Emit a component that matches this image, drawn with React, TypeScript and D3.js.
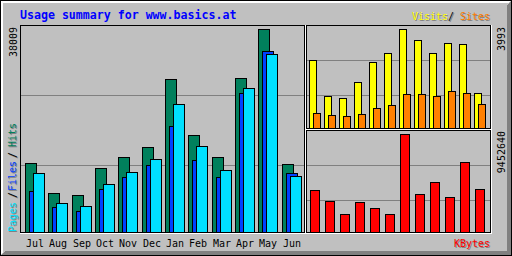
import React from 'react';
import * as d3 from 'd3';

const months = ['Jul', 'Aug', 'Sep', 'Oct', 'Nov', 'Dec', 'Jan', 'Feb', 'Mar', 'Apr', 'May', 'Jun'];
const hits = [12864, 7302, 6872, 11927, 14010, 15915, 28591, 18162, 13950, 28779, 38009, 12732];
const files = [7677, 4625, 3932, 7995, 10298, 12545, 19847, 13425, 10298, 26026, 33834, 11047];
const pages = [11047, 5430, 4812, 8987, 11234, 13612, 23910, 16102, 11553, 26906, 33328, 10429];
const visits = [2739, 1282, 1202, 1849, 2658, 3022, 3993, 3548, 3022, 3427, 3386, 1404];
const sites = [595, 514, 473, 554, 797, 918, 1363, 1363, 1282, 1485, 1404, 959];
const kbytes = [4073000, 3016000, 1768000, 2920000, 2344000, 1768000, 9452640, 3689000, 4842000, 3401000, 6763000, 4169000];

const title = 'Usage summary for www.basics.at';

const C = {
  bg: '#c0c0c0',
  dark: '#808080',
  hits: '#00805c',
  files: '#0040ff',
  pages: '#00e0ff',
  visits: '#ffff00',
  sites: '#ff8000',
  kbytes: '#ff0000',
  title: '#0000ff',
};
const FONT = '"DejaVu Sans Mono", "Liberation Mono", monospace';

// one bar: filled box with a 1px black outline, pixel columns x1..x1+w-1
const Bar = ({ x1, w, top, base, fill }: { x1: number; w: number; top: number; base: number; fill: string }) => {
  const t = Math.round(top);
  return <rect x={x1 + 0.5} y={t + 0.5} width={w - 1} height={base - t} fill={fill} stroke="#000" />;
};

// text with the grey drop shadow
const Shadow = ({ x, y, fill, children, rotate }: any) => {
  const tf = (dx: number, dy: number) =>
    rotate ? `translate(${x + dx},${y + dy}) rotate(-90)` : `translate(${x + dx},${y + dy})`;
  return (
    <g>
      <text transform={tf(1, 1)} fill={C.dark}>{children}</text>
      <text transform={tf(0, 0)} fill={fill}>{children}</text>
    </g>
  );
};

// panel frame: black box, white shadow on right/bottom, grid lines
const Frame = ({ x1, y1, x2, y2, grid }: { x1: number; y1: number; x2: number; y2: number; grid: number[] }) => (
  <g>
    {grid.map((g) => (
      <line key={g} x1={x1 + 1} x2={x2} y1={g + 0.5} y2={g + 0.5} stroke={C.dark} />
    ))}
    <line x1={x2 + 1.5} x2={x2 + 1.5} y1={y1} y2={y2 + 2} stroke="#fff" />
    <line x1={x1} x2={x2 + 2} y1={y2 + 1.5} y2={y2 + 1.5} stroke="#fff" />
  </g>
);
const Outline = ({ x1, y1, x2, y2 }: any) => (
  <rect x={x1 + 0.5} y={y1 + 0.5} width={x2 - x1} height={y2 - y1} fill="none" stroke="#000" />
);

export default function App() {
  // main panel: hits / files / pages
  const xMain = d3.scaleBand<string>().domain(months).range([25.3, 25.3 + 12 * 23.36]);
  const yMain = d3.scaleLinear().domain([0, d3.max(hits)!]).range([232, 29]);
  // top right: visits / sites
  const xVis = d3.scaleBand<string>().domain(months).range([309, 309 + 12 * 15]);
  const yVis = d3.scaleLinear().domain([0, d3.max(visits)!]).range([128, 29]);
  // bottom right: kbytes
  const xK = d3.scaleBand<string>().domain(months).range([310, 310 + 12 * 15]);
  const yK = d3.scaleLinear().domain([0, d3.max(kbytes)!]).range([232, 134]);

  const mx = (m: string) => Math.floor(xMain(m)!);

  return (
    <svg
      width={512}
      height={256}
      style={{ position: 'fixed', left: 0, top: 0 }}
      shapeRendering="crispEdges"
      fontFamily={FONT}
      fontSize={10}
    >
      <rect x={0} y={0} width={512} height={256} fill={C.bg} />
      {/* outer bevel */}
      {[1, 2].map((i) => (
        <g key={'w' + i}>
          <line x1={i} x2={511 - i} y1={i + 0.5} y2={i + 0.5} stroke="#fff" />
          <line x1={i + 0.5} x2={i + 0.5} y1={i} y2={255 - i} stroke="#fff" />
        </g>
      ))}
      {[1, 2, 3, 4].map((i) => (
        <g key={'d' + i}>
          <line x1={i + 1} x2={512 - i} y1={255 - i + 0.5} y2={255 - i + 0.5} stroke={C.dark} />
          <line x1={511 - i + 0.5} x2={511 - i + 0.5} y1={i + 1} y2={256 - i} stroke={C.dark} />
        </g>
      ))}
      <rect x={0.5} y={0.5} width={511} height={255} fill="none" stroke="#000" />

      {/* title */}
      <text x={20} y={18.5} fill={C.title} fontWeight="bold" fontSize={11.6}>
        {title}
      </text>

      {/* panels */}
      <Frame x1={20} y1={25} x2={304} y2={232} grid={[95, 165]} />
      <Frame x1={306} y1={25} x2={490} y2={128} grid={[60, 95]} />
      <Frame x1={306} y1={130} x2={490} y2={232} grid={[165, 200]} />

      {/* hits / files / pages */}
      {months.map((m, i) => (
        <g key={m}>
          <Bar x1={mx(m)} w={12} top={yMain(hits[i])} base={232} fill={C.hits} />
          <Bar x1={mx(m) + 4} w={12} top={yMain(files[i])} base={232} fill={C.files} />
          <Bar x1={mx(m) + 8} w={12} top={yMain(pages[i])} base={232} fill={C.pages} />
          <text x={mx(m) + 10} y={246.5} textAnchor="middle" fill="#000">
            {m}
          </text>
        </g>
      ))}

      {/* visits / sites */}
      {months.map((m, i) => (
        <g key={'v' + m}>
          <Bar x1={xVis(m)!} w={8} top={yVis(visits[i])} base={128} fill={C.visits} />
          <Bar x1={xVis(m)! + 4} w={8} top={yVis(sites[i])} base={128} fill={C.sites} />
        </g>
      ))}

      {/* kbytes */}
      {months.map((m, i) => (
        <Bar key={'k' + m} x1={xK(m)!} w={10} top={yK(kbytes[i])} base={232} fill={C.kbytes} />
      ))}

      <Outline x1={20} y1={25} x2={304} y2={232} />
      <Outline x1={306} y1={25} x2={490} y2={128} />
      <Outline x1={306} y1={130} x2={490} y2={232} />

      {/* max values, rotated */}
      <text transform="translate(16.5,27) rotate(-90)" textAnchor="end" fill="#000">
        {d3.max(hits)}
      </text>
      <text transform="translate(504.5,27) rotate(-90)" textAnchor="end" fill="#000">
        {d3.max(visits)}
      </text>
      <text transform="translate(504.5,131) rotate(-90)" textAnchor="end" fill="#000">
        {d3.max(kbytes)}
      </text>

      {/* legends */}
      <g fontSize={10}>
        <Shadow x={16} y={232} fill={C.pages} rotate>Pages</Shadow>
        <Shadow x={16} y={198} fill="#000" rotate>/</Shadow>
        <Shadow x={16} y={191} fill={C.files} rotate>Files</Shadow>
        <Shadow x={16} y={158} fill="#000" rotate>/</Shadow>
        <Shadow x={16} y={147} fill={C.hits} rotate>Hits</Shadow>

        <Shadow x={412} y={19.5} fill={C.visits}>Visits</Shadow>
        <Shadow x={448} y={19.5} fill="#000">/</Shadow>
        <Shadow x={460} y={19.5} fill={C.sites}>Sites</Shadow>

        <Shadow x={454} y={246.5} fill={C.kbytes}>KBytes</Shadow>
      </g>
    </svg>
  );
}
